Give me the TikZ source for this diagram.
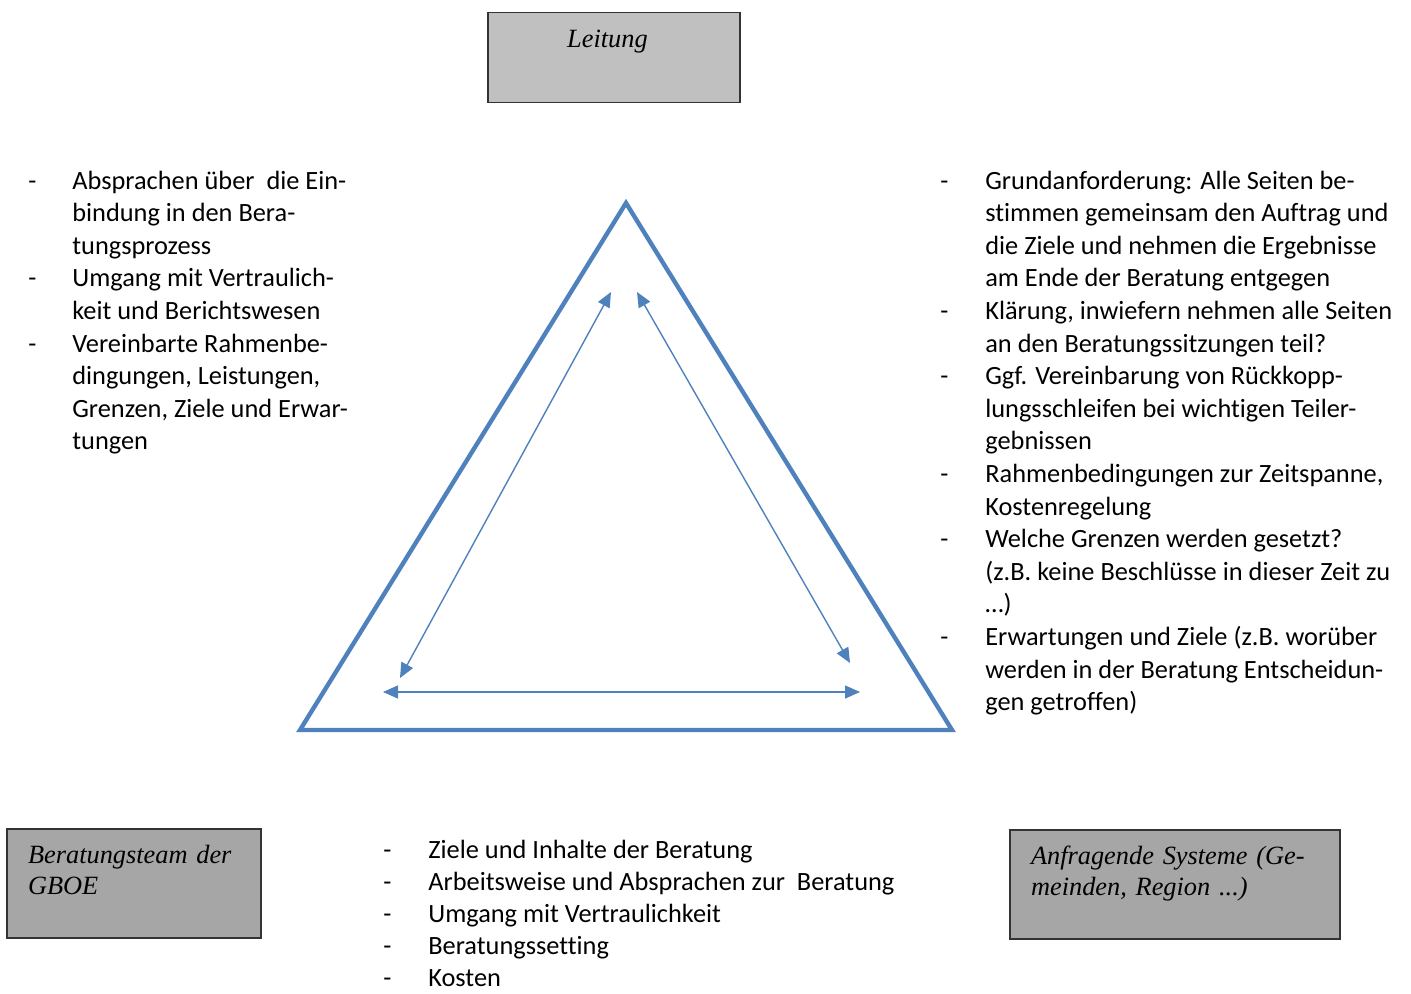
\documentclass[tikz,border=0pt]{standalone}
\usepackage{fontspec}
\setmainfont{Liberation Serif}
\newfontfamily\bodyfont[Ligatures=NoCommon]{Carlito}
\usetikzlibrary{arrows.meta}
\definecolor{triblue}{HTML}{4F81BD}
\definecolor{lightbox}{HTML}{C0C0C0}
\definecolor{darkbox}{HTML}{A6A6A6}
\begin{document}
\begin{tikzpicture}[x=0.02cm,y=-0.02cm,
  role/.style={draw=black!80,line width=0.7pt,inner xsep=0.42cm,inner ysep=0.1cm,text height=0.59cm,align=left,font=\fontsize{15}{17.4}\selectfont\itshape},
  notes/.style={anchor=north west,inner sep=0pt,font=\bodyfont\fontsize{15}{18.55}\selectfont},
  side/.style={draw=triblue,line width=2.5pt,line join=miter},
  link/.style={{Triangle[length=0.3cm,width=0.26cm]}-{Triangle[length=0.3cm,width=0.26cm]},draw=triblue,line width=0.8pt}]
\useasboundingbox (0,0) rectangle (1411,994);
% the three parties
\node[role,fill=lightbox,text width=4.2cm,text depth=1.0cm,align=center] (leit) at (614,57.5) {\hbox{Leitung\kern0.26cm}};
\node[role,fill=darkbox,text width=4.24cm,text depth=1.39cm] (team) at (134,883.5) {Beratungsteam der\\GBOE};
\node[role,fill=darkbox,text width=5.76cm,text depth=1.39cm] (anfr) at (1175,884.5) {Anfragende Systeme (Ge-\\meinden, Region ...)};
% triangle
\coordinate (top) at (626,203);
\coordinate (bl) at (300,730);
\coordinate (br) at (952,730);
\draw[side] (top)--(bl)--(br)--cycle;
% relations
\coordinate (l1) at (611,292); \coordinate (l2) at (400,678);
\coordinate (r1) at (637,292); \coordinate (r2) at (850,663);
\coordinate (b1) at (383,692); \coordinate (b2) at (860,692);
\draw[link] (l1)--(l2);
\draw[link] (r1)--(r2);
\draw[link] (b1)--(b2);
% notes
\node[notes] (leftnotes) at (28,166) {\begin{tabular}{@{}p{0.88cm}@{}l@{}}
- & Absprachen über\ \ die Ein-\\
 & bindung in den Bera-\\
 & tungsprozess\\
- & Umgang mit Vertraulich-\\
 & keit und Berichtswesen\\
- & Vereinbarte Rahmenbe-\\
 & dingungen, Leistungen,\\
 & Grenzen, Ziele und Erwar-\\
 & tungen
\end{tabular}};
\node[notes] (rightnotes) at (940,166) {\begin{tabular}{@{}p{0.9cm}@{}l@{}}
- & Grundanforderung: Alle Seiten be-\\
 & stimmen gemeinsam den Auftrag und\\
 & die Ziele und nehmen die Ergebnisse\\
 & am Ende der Beratung entgegen\\
- & Klärung, inwiefern nehmen alle Seiten\\
 & an den Beratungssitzungen teil?\\
- & Ggf. Vereinbarung von Rückkopp-\\
 & lungsschleifen bei wichtigen Teiler-\\
 & gebnissen\\
- & Rahmenbedingungen zur Zeitspanne,\\
 & Kostenregelung\\
- & Welche Grenzen werden gesetzt?\\
 & (z.B. keine Beschlüsse in dieser Zeit zu\\
 & …)\\
- & Erwartungen und Ziele (z.B. worüber\\
 & werden in der Beratung Entscheidun-\\
 & gen getroffen)
\end{tabular}};
\node[notes,font=\bodyfont\fontsize{15}{18.2}\selectfont] (bottomnotes) at (383,836) {\begin{tabular}{@{}p{0.9cm}@{}l@{}}
- & Ziele und Inhalte der Beratung\\
- & Arbeitsweise und Absprachen zur\ \ Beratung\\
- & Umgang mit Vertraulichkeit\\
- & Beratungssetting\\
- & Kosten
\end{tabular}};
\end{tikzpicture}
\end{document}
